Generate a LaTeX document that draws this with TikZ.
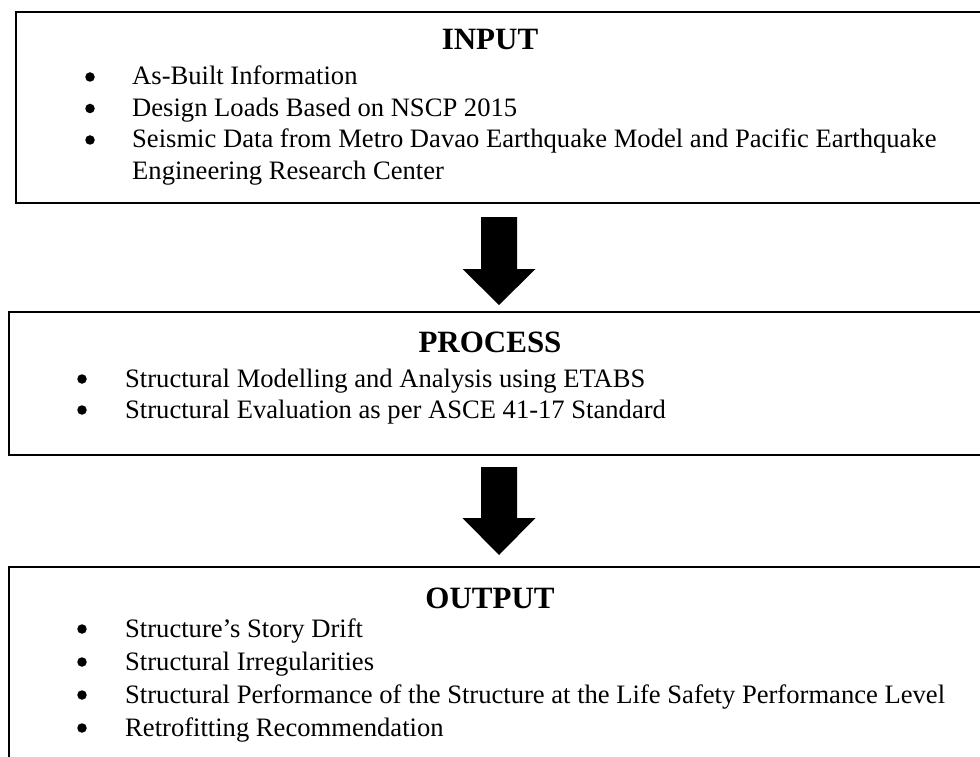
\documentclass[tikz,border=0pt]{standalone}
\usepackage{fontspec}
\setmainfont{Liberation Serif}
\begin{document}
\begin{tikzpicture}[x=1pt,y=-1pt,
  frame/.style={draw,line width=2pt,inner sep=0pt,anchor=north west},
  heading/.style={anchor=base,inner sep=0pt,font=\fontsize{31}{34}\selectfont\bfseries},
  item/.style={anchor=base west,inner sep=0pt,font=\fontsize{26.6}{30}\selectfont},
  dot/.style={circle,fill=black,inner sep=0pt,minimum size=9.5pt},
  flow/.style={fill=black}]
\useasboundingbox (0,0) rectangle (980,757);
\clip (0,0) rectangle (980,757);

% the three stage frames (right sides run past the page edge)
\node[frame,minimum width=1000pt,minimum height=191pt] (inbox) at (15,11) {};
\node[frame,minimum width=1000pt,minimum height=143pt] (procbox) at (8,311) {};
\node[frame,minimum width=1000pt,minimum height=220pt] (outbox) at (8,566) {};

% INPUT
\node[heading] (inhead) at (490,50) {INPUT};
\node[dot] (ind1) at (90,77) {};
\node[item] (in1) at (132,85) {As-Built Information};
\node[dot] (ind2) at (90,108.5) {};
\node[item] (in2) at (132,116.5) {Design Loads Based on NSCP 2015};
\node[dot] (ind3) at (90,140) {};
\node[item] (in3) at (132,148) {Seismic Data from Metro Davao Earthquake Model and Pacific Earthquake};
\node[item] (in4) at (132,179.5) {Engineering Research Center};

% PROCESS
\node[heading] (prochead) at (490,352) {PROCESS};
\node[dot] (prd1) at (82,379) {};
\node[item] (pr1) at (125,387) {Structural Modelling and Analysis using ETABS};
\node[dot] (prd2) at (82,410) {};
\node[item] (pr2) at (125,418) {Structural Evaluation as per ASCE 41-17 Standard};

% OUTPUT
\node[heading] (outhead) at (490,608) {OUTPUT};
\node[dot] (oud1) at (82,629) {};
\node[item] (ou1) at (125,637) {Structure’s Story Drift};
\node[dot] (oud2) at (82,662) {};
\node[item] (ou2) at (125,670) {Structural Irregularities};
\node[dot] (oud3) at (82,695) {};
\node[item] (ou3) at (125,703) {Structural Performance of the Structure at the Life Safety Performance Level};
\node[dot] (oud4) at (82,728) {};
\node[item] (ou4) at (125,736) {Retrofitting Recommendation};

% block arrows between stages
\coordinate (a1) at (499,217);
\coordinate (a2) at (499,467);
\fill[flow] (a1) +(-18,0) -- +(18,0) -- +(18,52) -- +(36.5,52) -- +(0,88)
  -- +(-36.5,52) -- +(-18,52) -- cycle;
\fill[flow] (a2) +(-18,0) -- +(18,0) -- +(18,51) -- +(36.5,51) -- +(0,88)
  -- +(-36.5,51) -- +(-18,51) -- cycle;
\end{tikzpicture}
\end{document}
